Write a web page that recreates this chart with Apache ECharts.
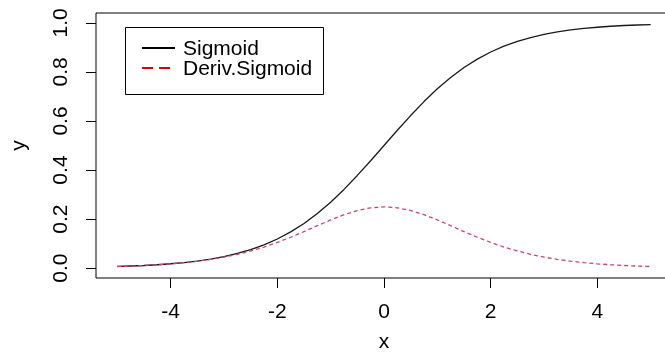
<!DOCTYPE html>
<html>
<head>
<meta charset="utf-8">
<script src="https://cdn.jsdelivr.net/npm/echarts@6/dist/echarts.min.js"></script>
<style>html,body{margin:0;padding:0;background:#fff}#c{width:665px;height:354px}</style>
</head>
<body>
<div id="c"></div>
<script>
var xValues = [-5,-4.75,-4.5,-4.25,-4,-3.75,-3.5,-3.25,-3,-2.75,-2.5,-2.25,-2,-1.75,-1.5,-1.25,-1,-0.75,-0.5,-0.25,0,
  0.25,0.5,0.75,1,1.25,1.5,1.75,2,2.25,2.5,2.75,3,3.25,3.5,3.75,4,4.25,4.5,4.75,5];
var sigmoidValues = [0.007,0.009,0.011,0.014,0.018,0.023,0.029,0.037,0.047,0.060,0.076,0.095,0.119,0.148,0.182,0.223,0.269,0.321,0.378,0.438,0.500,
  0.562,0.622,0.679,0.731,0.777,0.818,0.852,0.881,0.905,0.924,0.940,0.953,0.963,0.971,0.977,0.982,0.986,0.989,0.991,0.993];
var derivValues = [0.0066,0.0085,0.0109,0.0140,0.0177,0.0226,0.0285,0.0357,0.0452,0.0564,0.0701,0.0860,0.1050,0.1261,0.1491,0.1734,0.1966,0.2179,0.2350,0.2461,0.2500,
  0.2461,0.2350,0.2179,0.1966,0.1734,0.1491,0.1261,0.1050,0.0860,0.0701,0.0564,0.0452,0.0357,0.0285,0.0226,0.0177,0.0140,0.0109,0.0085,0.0066];
var xTicks = [-4,-2,0,2,4];
var yTicks = [0,0.2,0.4,0.6,0.8,1.0];
var seriesNames = ['Sigmoid','Deriv.Sigmoid'];

var FONT = 'Liberation Sans, Arial, sans-serif';
function pairs(xs, ys){ return xs.map(function(x,i){ return [x, ys[i]]; }); }

var chart = echarts.init(document.getElementById('c'), null, {renderer:'canvas'});
chart.setOption({
  animation:false,
  backgroundColor:'#fff',
  grid:{left:96, top:13, width:576, height:265, containLabel:false, outerBoundsMode:'none',
    show:true, borderColor:'#000', borderWidth:1, backgroundColor:'transparent'},
  xAxis:{
    type:'value', min:-5.4, max:5.4,
    name:'x', nameLocation:'middle', nameGap:54,
    nameTextStyle:{fontFamily:FONT, fontSize:21, color:'#000'},
    axisLine:{show:false, onZero:false},
    splitLine:{show:false},
    axisTick:{show:true, length:10, inside:false, customValues:xTicks, lineStyle:{color:'#000', width:1}},
    axisLabel:{customValues:xTicks, margin:24, fontFamily:FONT, fontSize:21, color:'#000',
      formatter:function(v){ return String(v); }}
  },
  yAxis:{
    type:'value', min:-0.04, max:1.04,
    name:'y', nameLocation:'middle', nameGap:66, nameRotate:90,
    nameTextStyle:{fontFamily:FONT, fontSize:21, color:'#000'},
    axisLine:{show:false, onZero:false},
    splitLine:{show:false},
    axisTick:{show:true, length:10, customValues:yTicks, lineStyle:{color:'#000', width:1}},
    axisLabel:{customValues:yTicks, rotate:90, margin:24, fontFamily:FONT, fontSize:21, color:'#000',
      formatter:function(v){ return v.toFixed(1); }}
  },
  series:[
    {name:seriesNames[0], type:'line', data:pairs(xValues, sigmoidValues), showSymbol:false, smooth:false,
      lineStyle:{color:'#1a1a1a', width:1.3}},
    {name:seriesNames[1], type:'line', data:pairs(xValues, derivValues), showSymbol:false, smooth:false,
      lineStyle:{color:'#c24a6a', width:1.3, type:[4,3]}}
  ],
  graphic:[
    {type:'rect', shape:{x:125.5, y:27.5, width:198, height:67}, style:{fill:'#fff', stroke:'#000', lineWidth:1}, z:100},
    {type:'line', shape:{x1:142, y1:48, x2:175, y2:48}, style:{stroke:'#000', lineWidth:2}, z:101},
    {type:'line', shape:{x1:142, y1:68, x2:175, y2:68}, style:{stroke:'#e00000', lineWidth:2, lineDash:[11,6]}, z:101},
    {type:'text', x:183, y:49, style:{text:seriesNames[0], font:'21px '+FONT, fill:'#000', textVerticalAlign:'middle'}, z:101},
    {type:'text', x:183, y:69, style:{text:seriesNames[1], font:'21px '+FONT, fill:'#000', textVerticalAlign:'middle'}, z:101}
  ]
});
</script>
</body>
</html>
